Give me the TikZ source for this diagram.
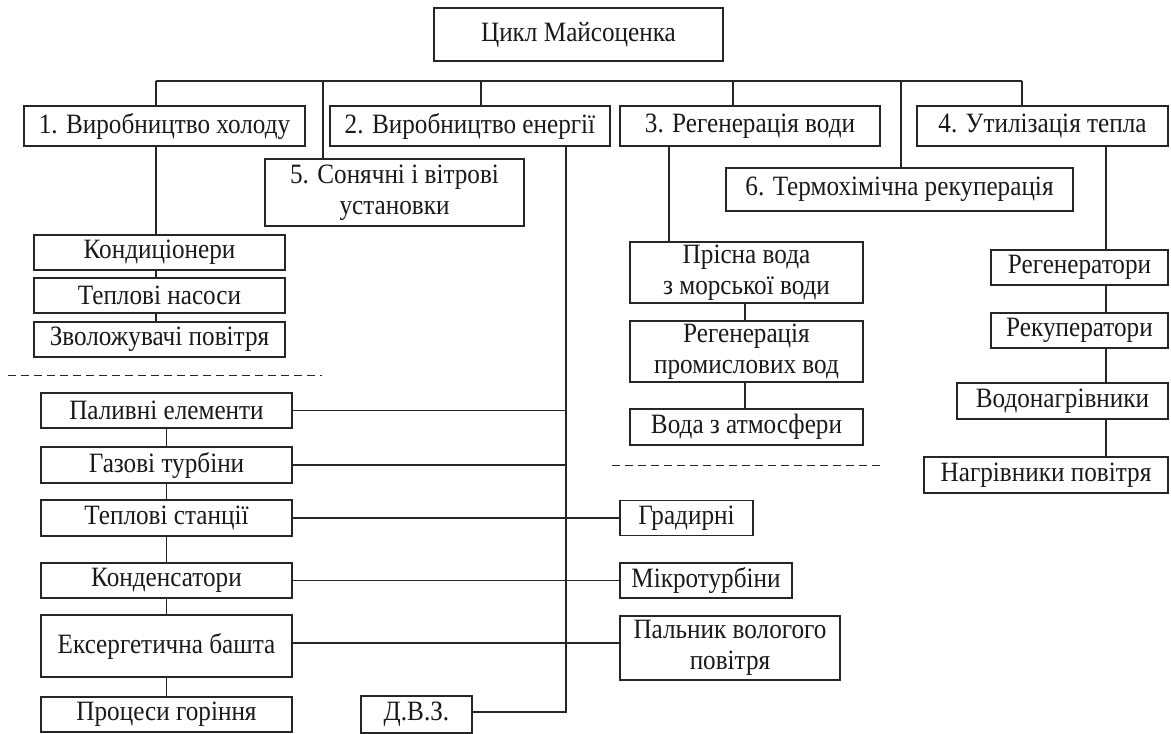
\documentclass[tikz,border=0pt]{standalone}
\usepackage{fontspec}
\setmainfont{Liberation Serif}[FakeStretch=0.9]
\begin{document}
\begin{tikzpicture}[x=1pt,y=-1pt,
  bx/.style={draw=black!85, line width=1.2pt, inner sep=0pt, align=center,
    font=\fontsize{28}{31}\selectfont, text=black!90},
  ln/.style={draw=black!85, line width=1.2pt},
  dl/.style={draw=black!85, line width=1pt, dash pattern=on 8pt off 5pt}]
\useasboundingbox (0,0) rectangle (1171,734);
% top
\node[bx, minimum width=289pt, minimum height=53pt] (top) at (578.5,34.5) {Цикл Майсоценка};
% row 1
\node[bx, minimum width=281pt, minimum height=40pt] (b1) at (164.5,126) {1. Виробництво холоду};
\node[bx, minimum width=280pt, minimum height=40pt] (b2) at (470,126) {2. Виробництво енергії};
\node[bx, minimum width=260pt, minimum height=40pt] (b3) at (750,126) {3. Регенерація води};
\node[bx, minimum width=251pt, minimum height=40pt] (b4) at (1042.5,126) {4. Утилізація тепла};
\node[bx, minimum width=259pt, minimum height=67pt] (b5) at (394.5,192.5) {5. Сонячні і вітрові\\установки};
\node[bx, minimum width=347pt, minimum height=43pt] (b6) at (899.5,189.5) {6. Термохімічна рекуперація};
% bus
\coordinate (busL) at (156,81);
\coordinate (busR) at (1022,81);
\draw[ln] (busL) -- (busR);
\draw[ln] (busL) -- (busL |- b1.north);
\draw[ln] (323,81) -- (323,159);
\draw[ln] (481,81) -- (481,106);
\draw[ln] (733,81) -- (733,106);
\draw[ln] (901,81) -- (901,168);
\draw[ln] (busR) -- (busR |- b4.north);
% column 1
\node[bx, minimum width=251pt, minimum height=35pt] (kond) at (159.5,252.5) {Кондиціонери};
\node[bx, minimum width=251pt, minimum height=35pt] (tepl) at (159.5,295.5) {Теплові насоси};
\node[bx, minimum width=251pt, minimum height=35pt] (zvol) at (159.5,339.5) {Зволожувачі повітря};
\draw[ln] (156,146) -- (156,235);
\draw[ln] (156,270) -- (156,278);
\draw[ln] (156,313) -- (156,322);
\coordinate (dl1) at (8,375);
\coordinate (dl2) at (322,375);
\draw[dl] (dl1) -- (dl2);
% column 2
\node[bx, minimum width=251pt, minimum height=35pt] (pal) at (166.5,410.5) {Паливні елементи};
\node[bx, minimum width=251pt, minimum height=36pt] (gaz) at (166.5,465) {Газові турбіни};
\node[bx, minimum width=251pt, minimum height=36pt] (tst) at (166.5,518) {Теплові станції};
\node[bx, minimum width=251pt, minimum height=35pt] (kon) at (166.5,580.5) {Конденсатори};
\node[bx, minimum width=251pt, minimum height=62pt] (eks) at (166.5,646) {Ексергетична башта};
\node[bx, minimum width=251pt, minimum height=35pt] (proc) at (166.5,714.5) {Процеси горіння};
\node[bx, minimum width=111pt, minimum height=37pt] (dvz) at (416.5,714.5) {Д.В.З.};
\draw[ln] (pal) -- (gaz);
\draw[ln] (gaz) -- (tst);
\draw[ln] (tst) -- (kon);
\draw[ln] (kon) -- (eks);
\draw[ln] (eks) -- (proc);
\coordinate (v2top) at (566,146);
\coordinate (v2bot) at (566,712);
\draw[ln] (v2top) -- (v2bot) -- (dvz.east |- v2bot);
\node[bx, minimum width=133pt, minimum height=35pt] (grad) at (686.5,518) {Градирні};
\node[bx, minimum width=172pt, minimum height=35pt] (mik) at (706,580.5) {Мікротурбіни};
\node[bx, minimum width=220pt, minimum height=64pt] (paln) at (730,648) {Пальник вологого\\повітря};
\draw[ln] (pal.east) -- (pal.east -| v2top);
\draw[ln] (gaz.east) -- (gaz.east -| v2top);
\draw[ln] (tst.east) -- (grad.west);
\draw[ln] (kon.east) -- (mik.west);
\draw[ln] (eks.east |- 0,643) -- (paln.west |- 0,643);
% column 3
\node[bx, minimum width=233pt, minimum height=61pt] (pris) at (746.5,272.5) {Прісна вода\\з морської води};
\node[bx, minimum width=233pt, minimum height=61pt] (regw) at (746.5,351.5) {Регенерація\\промислових вод};
\node[bx, minimum width=233pt, minimum height=36pt] (atm) at (746.5,427) {Вода з атмосфери};
\draw[ln] (669,146) -- (669,242);
\draw[ln] (745,303) -- (745,321);
\draw[ln] (745,382) -- (745,409);
\coordinate (dr1) at (612,465);
\coordinate (dr2) at (882,465);
\draw[dl] (dr1) -- (dr2);
% column 4
\node[bx, minimum width=177pt, minimum height=35pt] (reg) at (1079.5,267.5) {Регенератори};
\node[bx, minimum width=177pt, minimum height=35pt] (rek) at (1079.5,330.5) {Рекуператори};
\node[bx, minimum width=211pt, minimum height=36pt] (vod) at (1062.5,401) {Водонагрівники};
\node[bx, minimum width=244pt, minimum height=36pt] (nag) at (1046,475) {Нагрівники повітря};
\draw[ln] (1106,146) -- (1106,250);
\draw[ln] (1106,285) -- (1106,313);
\draw[ln] (1106,348) -- (1106,383);
\draw[ln] (1106,419) -- (1106,457);
\end{tikzpicture}
\end{document}
